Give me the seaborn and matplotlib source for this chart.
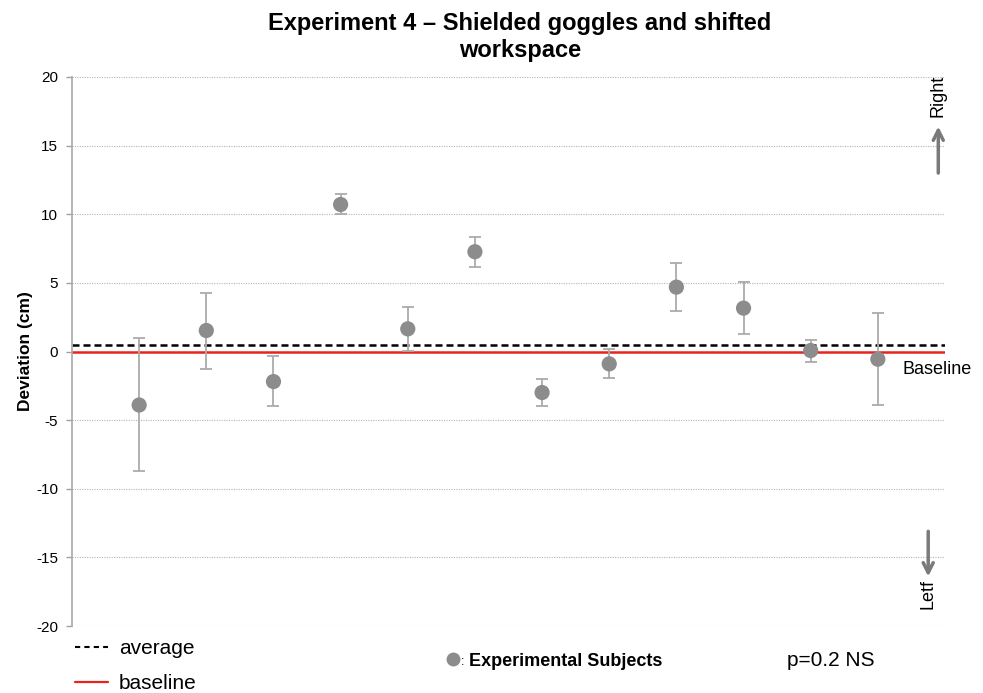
import numpy as np
import pandas as pd
import seaborn as sns
import matplotlib.pyplot as plt
from matplotlib.lines import Line2D

# Data
subjects = list(range(1, 13))
deviation = [-3.9, 1.53, -2.19, 10.71, 1.65, 7.27, -2.99, -0.9, 4.69, 3.16, 0.07, -0.56]
err_low = [4.83, 2.77, 1.81, 0.71, 1.58, 1.12, 1.01, 1.02, 1.77, 1.9, 0.87, 3.35]
err_high = [4.87, 2.75, 1.85, 0.79, 1.58, 1.06, 1.0, 1.05, 1.75, 1.87, 0.78, 3.35]
average = 0.44
baseline = 0.0
y_ticks = [-20, -15, -10, -5, 0, 5, 10, 15, 20]

df = pd.DataFrame({"subject": subjects, "deviation": deviation})

sns.set_style("white")
plt.rcParams["font.family"] = ["Liberation Sans", "DejaVu Sans"]
plt.rcParams["axes.unicode_minus"] = False
plt.rcParams["text.color"] = "black"
plt.rcParams["axes.labelcolor"] = "black"
plt.rcParams["ytick.labelcolor"] = "black"

fig = plt.figure(figsize=(9.83, 6.93), dpi=100)
ax = fig.add_axes([72 / 983, 1 - 626 / 693, (945 - 72) / 983, (626 - 77) / 693])

# grid
for y in y_ticks:
    ax.axhline(y, color="#b5b5b5", lw=0.8, ls=(0, (1, 1.2)), zorder=0)

# baseline and average
ax.axhline(baseline, color="#e8231f", lw=1.8, zorder=2)
ax.axhline(average, color="black", lw=1.8, ls=(0, (2.8, 1.6)), zorder=2)

# error bars and points
ax.errorbar(df["subject"], df["deviation"], yerr=[err_low, err_high], fmt="none",
            ecolor="#ababab", elinewidth=1.3, capsize=4, capthick=1.3, zorder=3)
sns.scatterplot(data=df, x="subject", y="deviation", ax=ax, color="#8c8c8c",
                s=120, edgecolor="none", zorder=4, legend=False)

ax.set_xlim(0, 13)
ax.set_ylim(-20, 20)
ax.set_yticks(y_ticks)
ax.set_xticks([])
ax.set_xlabel("")
ax.set_ylabel("Deviation (cm)", fontsize=12.5, fontweight="bold", labelpad=2.5)
ax.tick_params(axis="y", labelsize=11, length=4, width=1, color="#a0a0a0",
               direction="out", pad=6, left=True)
for side in ["top", "right", "bottom"]:
    ax.spines[side].set_visible(False)
ax.spines["left"].set_color("#a8a8a8")
ax.spines["left"].set_linewidth(1.2)

# annotations
ax.text(12.37, -0.7, "Baseline", fontsize=13, va="top", ha="left")
ax.annotate("", xy=(12.9, 16.6), xytext=(12.9, 12.8),
            arrowprops=dict(arrowstyle="->", color="#7a7a7a", lw=2.5,
                            mutation_scale=18))
ax.text(12.9, 18.6, "Right", rotation=90, fontsize=13, ha="center", va="center")
ax.annotate("", xy=(12.75, -16.6), xytext=(12.75, -12.9),
            arrowprops=dict(arrowstyle="->", color="#7a7a7a", lw=2.5,
                            mutation_scale=18))
ax.text(12.75, -17.7, "Letf", rotation=90, fontsize=13, ha="center", va="center")

# title
fig.text(520 / 983, 1 - 37 / 693, "Experiment 4 \u2013 Shielded goggles and shifted\nworkspace",
         ha="center", va="center", fontsize=17, fontweight="bold", linespacing=1.2)

# legends
handles = [Line2D([], [], color="black", lw=1.5, ls=(0, (2.5, 2.0))),
           Line2D([], [], color="#e8231f", lw=1.6)]
fig.legend(handles, ["average", "baseline"], loc="upper left",
           bbox_to_anchor=(75 / 983, 1 - 639 / 693), frameon=False,
           fontsize=15, handlelength=1.6, handletextpad=0.5, labelspacing=0.78,
           borderaxespad=0, borderpad=0)
subj_handle = Line2D([], [], color="#8c8c8c", marker="o", ls="none", markersize=9)
fig.legend([subj_handle], ["Experimental Subjects"], loc="center left",
           bbox_to_anchor=(446 / 983, 1 - 661 / 693), frameon=False,
           prop={"size": 13, "weight": "bold"}, handlelength=0.8,
           handletextpad=0.5, borderaxespad=0, borderpad=0)
fig.text(461 / 983, 1 - 662 / 693, ":", fontsize=9, ha="left", va="center")
fig.text(787 / 983, 1 - 661 / 693, "p=0.2 NS", fontsize=15, ha="left", va="center")

fig.savefig("out.png", dpi=100)
